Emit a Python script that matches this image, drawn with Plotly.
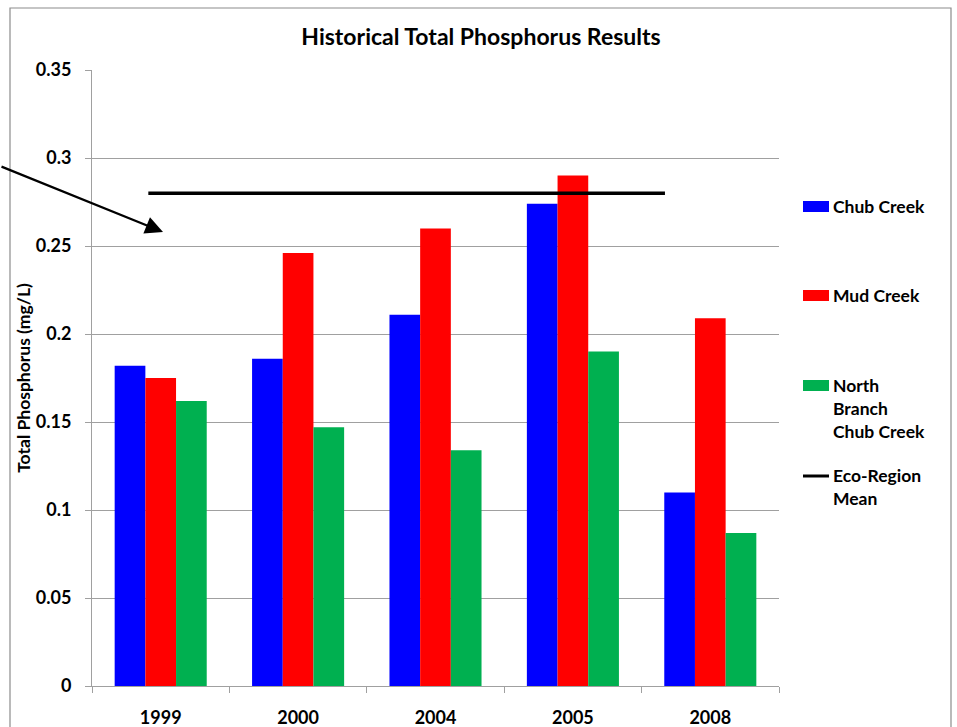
import plotly.graph_objects as go

years = ["1999", "2000", "2004", "2005", "2008"]
chub_creek = [0.182, 0.186, 0.211, 0.274, 0.110]
mud_creek = [0.175, 0.246, 0.260, 0.290, 0.209]
north_branch = [0.162, 0.147, 0.134, 0.190, 0.087]
eco_region_mean = 0.28
eco_span = [-0.09, 3.67]  # where the mean line starts/ends, in category units

series_names = ["Chub Creek", "Mud Creek", "North<br>Branch<br>Chub Creek", "Eco-Region<br>Mean"]
colors = ["#0000FF", "#FF0000", "#00B050", "#000000"]

FONT = "Lato"
W, H = 957, 727
L, R, T, B = 92, 178, 70, 41


def px_x(x):
    return (x - L) / (W - L - R)


def px_y(y):
    return (H - B - y) / (H - T - B)


fig = go.Figure()

for name, vals, col in zip(series_names[:3], [chub_creek, mud_creek, north_branch], colors[:3]):
    fig.add_trace(go.Bar(x=years, y=vals, name=name, marker_color=col,
                         marker_line_width=0, showlegend=False))

# eco-region mean line, on an overlaid numeric x axis
fig.add_trace(go.Scatter(x=eco_span, y=[eco_region_mean] * 2, xaxis="x2",
                         mode="lines", line=dict(color="black", width=3.5),
                         showlegend=False))

fig.update_layout(
    width=W, height=H,
    margin=dict(l=L, r=R, t=T, b=B, autoexpand=False),
    paper_bgcolor="white", plot_bgcolor="white",
    font=dict(family=FONT, color="black"),
    bargap=0.33, bargroupgap=0,
    title=dict(text="<b>Historical Total Phosphorus Results</b>", font=dict(size=23),
               x=px_x(481), xref="paper", xanchor="center",
               y=1 - 37 / H, yanchor="middle", automargin=False),
    xaxis=dict(showline=True, linecolor="#A0A0A0", linewidth=1,
               ticks="outside", tickson="boundaries", ticklen=6, tickcolor="#A0A0A0",
               tickfont=dict(size=18, family=FONT), ticklabelstandoff=15,
               tickprefix="<b>", ticksuffix="</b>", showgrid=False, automargin=False),
    xaxis2=dict(overlaying="x", range=[-0.5, 4.5], visible=False),
    yaxis=dict(range=[0, 0.35], dtick=0.05, showline=True, linecolor="#A0A0A0",
               showgrid=True, gridcolor="#A0A0A0", gridwidth=1,
               ticks="outside", ticklen=6, tickcolor="#A0A0A0",
               tickfont=dict(size=18, family=FONT), ticklabelstandoff=10,
               tickformat="~g", tickprefix="<b>", ticksuffix="</b>",
               zeroline=False, automargin=False,
               title=dict(text="<b>Total Phosphorus (mg/L)</b>", font=dict(size=17.5), standoff=0)),
)

# chart border
fig.add_shape(type="rect", xref="paper", yref="paper",
              x0=px_x(10), x1=px_x(951), y0=px_y(760), y1=px_y(8),
              line=dict(color="#8C8C8C", width=1.2), fillcolor="rgba(0,0,0,0)", layer="above")

# legend, Excel-style with even spacing
legend_y = [207, 296, 386, 476]
for i, (name, col) in enumerate(zip(series_names, colors)):
    yc = legend_y[i]
    if i < 3:
        fig.add_shape(type="rect", xref="paper", yref="paper",
                      x0=px_x(803), x1=px_x(829), y0=px_y(yc + 5), y1=px_y(yc - 6),
                      fillcolor=col, line_width=0)
    else:
        fig.add_shape(type="line", xref="paper", yref="paper",
                      x0=px_x(803), x1=px_x(829), y0=px_y(yc), y1=px_y(yc),
                      line=dict(color=col, width=3))
    fig.add_annotation(text="<b>" + name + "</b>", xref="paper", yref="paper",
                       x=px_x(831), y=px_y(yc - 13), xanchor="left", yanchor="top",
                       align="left", showarrow=False, font=dict(size=17.5),
                       )

# arrow pointing at the mean line
fig.add_annotation(text="", xref="paper", yref="paper", x=px_x(163), y=px_y(232),
                   ax=-175, ay=-66, showarrow=True, arrowhead=2, arrowsize=1.6,
                   arrowwidth=2.2, arrowcolor="black")

# page body has a default 8px margin; drop it so the chart sits at the window corner
fig.write_html("out.html", config={"displayModeBar": False},
               post_script="document.body.style.margin='0px';")
